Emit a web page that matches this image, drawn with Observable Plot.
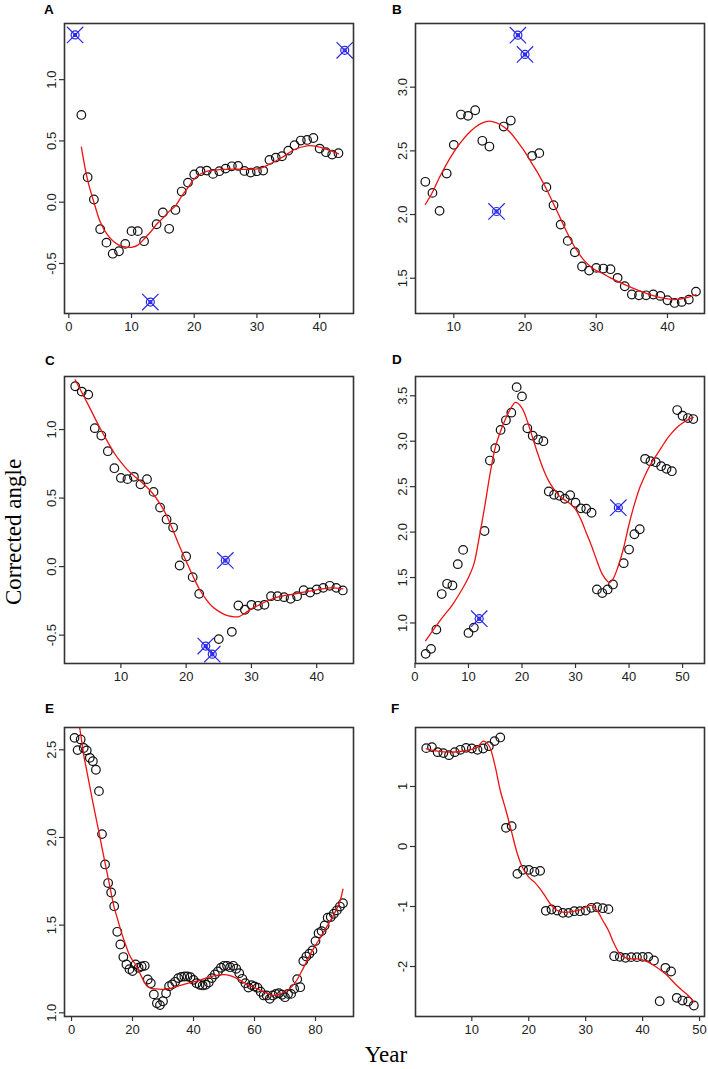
<!DOCTYPE html>
<html>
<head>
<meta charset="utf-8">
<script src="https://cdn.jsdelivr.net/npm/d3@7"></script>
<script src="https://cdn.jsdelivr.net/npm/@observablehq/plot@0.6"></script>
<style>
  body { margin: 0; background: #fff; }
  #wrap { position: relative; width: 708px; height: 1069px; background: #fff; overflow: hidden; }
  .panel { position: absolute; }
  #overlay { position: absolute; left: 0; top: 0; pointer-events: none; }
</style>
</head>
<body>
<div id="wrap"></div>
<script>
// ---------- Panel A ----------
const aYears = [2,3,4,5,6,7,8,9,10,11,12,14,15,16,17,18,19,20,21,22,23,24,25,26,27,28,29,30,31,32,33,34,35,36,37,38,39,40,41,42,43];
const aAngles = [0.712,0.204,0.022,-0.22,-0.33,-0.42,-0.40,-0.34,-0.236,-0.236,-0.318,-0.18,-0.084,-0.217,-0.063,0.087,0.160,0.226,0.253,0.258,0.231,0.253,0.274,0.293,0.296,0.255,0.242,0.253,0.258,0.345,0.364,0.375,0.421,0.465,0.503,0.508,0.524,0.4375,0.408,0.389,0.40];
const aOutYears = [1,13,44];
const aOutAngles = [1.365,-0.815,1.239];
const aFitYears = [2,3,4,5,6,7,8,9,10,11,12,13,14,15,16,17,18,19,20,21,22,24,26,28,30,31,32,34,36,38,39,40,42,43];
const aFitAngles = [0.45,0.18,0.0,-0.16,-0.255,-0.315,-0.35,-0.365,-0.368,-0.35,-0.30,-0.245,-0.18,-0.13,-0.075,-0.03,0.05,0.12,0.19,0.23,0.252,0.265,0.27,0.268,0.272,0.285,0.31,0.365,0.43,0.46,0.46,0.45,0.415,0.395];

// ---------- Panel B ----------
const bYears = [6,7,8,9,10,11,12,13,14,15,17,18,21,22,23,24,25,26,27,28,29,30,31,32,33,34,35,36,37,38,39,40,41,42,43,44];
const bAngles = [2.257,2.170,2.029,2.322,2.547,2.785,2.775,2.819,2.579,2.534,2.691,2.738,2.461,2.482,2.215,2.073,1.921,1.793,1.704,1.592,1.560,1.581,1.576,1.571,1.503,1.437,1.372,1.366,1.366,1.372,1.361,1.327,1.306,1.314,1.332,1.395];
const bOutYears = [16,19,20];
const bOutAngles = [2.024,3.408,3.257];
const bFitYears = [6,7,8,9,10,11,12,13,14,15,16,17,18,19,20,21,22,23,24,25,26,27,28,29,30,31,32,34,36,38,40,41,42,43,44];
const bFitAngles = [2.079,2.175,2.293,2.398,2.49,2.568,2.634,2.686,2.72,2.733,2.72,2.69,2.64,2.568,2.49,2.398,2.306,2.20,2.084,1.966,1.848,1.743,1.66,1.60,1.56,1.534,1.503,1.45,1.403,1.364,1.338,1.332,1.338,1.351,1.372];

// ---------- Panel C ----------
const cYears = [3,4,5,6,7,8,9,10,11,12,13,14,15,16,17,18,19,20,21,22,25,27,28,29,30,31,32,33,34,35,36,37,38,39,40,41,42,43,44];
const cAngles = [1.316,1.277,1.255,1.01,0.956,0.842,0.718,0.647,0.638,0.655,0.60,0.638,0.545,0.431,0.344,0.285,0.008,0.074,-0.077,-0.199,-0.529,-0.476,-0.284,-0.315,-0.279,-0.286,-0.279,-0.216,-0.216,-0.223,-0.235,-0.216,-0.172,-0.189,-0.167,-0.155,-0.14,-0.155,-0.174];
const cOutYears = [23,24,26];
const cOutAngles = [-0.580,-0.639,0.045];
const cFitYears = [3,4,5,6,7,8,9,10,11,12,13,14,15,16,17,18,19,20,21,22,23,24,25,26,27,28,29,30,31,32,34,36,38,40,42,44];
const cFitAngles = [1.362,1.272,1.18,1.085,0.993,0.908,0.827,0.762,0.706,0.662,0.623,0.579,0.526,0.458,0.373,0.263,0.147,0.04,-0.065,-0.162,-0.235,-0.291,-0.327,-0.352,-0.364,-0.366,-0.34,-0.308,-0.284,-0.26,-0.223,-0.204,-0.187,-0.17,-0.155,-0.162];

// ---------- Panel D ----------
const dYears = [2,3,4,5,6,7,8,9,10,11,13,14,15,16,17,18,19,20,21,22,23,24,25,26,27,28,29,30,31,32,33,34,35,36,37,39,40,41,42,43,44,45,46,47,48,49,50,51,52];
const dAngles = [0.660,0.715,0.927,1.318,1.431,1.413,1.647,1.804,0.890,0.949,2.012,2.787,2.923,3.124,3.23,3.314,3.595,3.493,3.142,3.061,3.018,3.0,2.447,2.411,2.40,2.367,2.407,2.323,2.261,2.257,2.213,1.369,1.329,1.369,1.424,1.658,1.808,1.976,2.031,2.806,2.78,2.769,2.725,2.696,2.67,3.343,3.28,3.255,3.244];
const dOutYears = [12,38];
const dOutAngles = [1.047,2.268];
const dFitYears = [2,5,7,9,10,11,12,13,14,15,16,17,18,18.8,20,21,22,23,24,25,26,27,28,29,30,31,32,33,34,35,36,36.4,37,38,39,40,41,42,43,44,45,46,47,48,49,50,51,52];
const dFitAngles = [0.806,1.05,1.20,1.39,1.50,1.647,1.94,2.27,2.63,2.93,3.11,3.255,3.372,3.427,3.365,3.22,3.036,2.853,2.689,2.561,2.47,2.396,2.352,2.312,2.25,2.14,1.994,1.848,1.683,1.537,1.457,1.446,1.482,1.629,1.83,2.086,2.305,2.488,2.626,2.743,2.835,2.926,3.018,3.091,3.153,3.2,3.237,3.262];

// ---------- Panel E ----------
const eYears = [1,2,3,4,5,6,7,8,9,10,11,12,13,14,15,16,17,18,19,20,21,22,23,24,25,26,27,28,29,30,31,32,33,34,35,36,37,38,39,40,41,42,43,44,45,46,47,48,49,50,51,52,53,54,55,56,57,58,59,60,61,62,63,64,65,66,67,68,69,70,71,72,73,74,75,76,77,78,79,80,81,82,83,84,85,86,87,88,89];
const eAngles = [2.568,2.498,2.559,2.51,2.496,2.454,2.435,2.386,2.264,2.019,1.846,1.74,1.686,1.608,1.462,1.39,1.318,1.276,1.249,1.238,1.276,1.257,1.264,1.268,1.19,1.169,1.105,1.055,1.044,1.066,1.112,1.152,1.162,1.177,1.198,1.205,1.207,1.207,1.203,1.188,1.169,1.16,1.156,1.16,1.173,1.198,1.219,1.236,1.257,1.268,1.268,1.26,1.268,1.251,1.226,1.194,1.169,1.144,1.158,1.15,1.143,1.12,1.099,1.099,1.08,1.099,1.108,1.112,1.103,1.089,1.108,1.108,1.137,1.192,1.146,1.295,1.321,1.337,1.356,1.409,1.454,1.466,1.498,1.542,1.546,1.565,1.584,1.606,1.625];
const eFitYears = [1,2,3,4,5,6,7,8,9,10,11,12,13,14,15,16,17,18,19,20,21,22,23,24,25,26,28,30,32,34,36,38,40,42,44,46,48,50,52,54,56,58,60,62,64,66,68,70,72,74,76,78,80,82,84,86,88,89];
const eFitAngles = [2.82,2.70,2.59,2.47,2.38,2.29,2.20,2.115,2.03,1.94,1.855,1.77,1.682,1.60,1.54,1.48,1.425,1.375,1.33,1.30,1.275,1.24,1.205,1.17,1.148,1.14,1.136,1.133,1.138,1.147,1.158,1.168,1.176,1.185,1.198,1.208,1.215,1.218,1.212,1.198,1.178,1.158,1.143,1.128,1.112,1.10,1.105,1.12,1.145,1.19,1.255,1.325,1.385,1.44,1.50,1.56,1.635,1.705];

// ---------- Panel F ----------
const fYears = [2,3,4,5,6,7,8,9,10,11,12,13,14,15,16,17,18,19,20,21,22,23,24,25,26,27,28,29,30,31,32,33,34,35,36,37,38,39,40,41,42,43,44,45,46,47,48,49];
const fAngles = [1.639,1.656,1.572,1.556,1.522,1.572,1.611,1.644,1.633,1.611,1.633,1.672,1.756,1.817,0.311,0.339,-0.456,-0.389,-0.389,-0.422,-0.406,-1.072,-1.05,-1.067,-1.106,-1.106,-1.078,-1.078,-1.067,-1.022,-1.011,-1.028,-1.044,-1.828,-1.839,-1.856,-1.844,-1.844,-1.839,-1.839,-1.9,-2.578,-2.022,-2.083,-2.522,-2.567,-2.583,-2.65];
const fFitYears = [2,4,6,8,10,11,12,13,14,15,16,17,18,19,20,21,22,23,24,25,26,27,28,29,30,31,32,33,34,35,36,37,38,39,40,41,42,44,46,48,49];
const fFitAngles = [1.628,1.589,1.572,1.583,1.617,1.656,1.756,1.683,1.378,0.933,0.6,0.239,-0.122,-0.372,-0.511,-0.594,-0.706,-0.844,-0.983,-1.067,-1.094,-1.094,-1.078,-1.056,-1.011,-0.983,-1.067,-1.233,-1.4,-1.622,-1.789,-1.856,-1.872,-1.872,-1.889,-1.928,-1.983,-2.122,-2.317,-2.483,-2.594];

// ---------- Tick values ----------
const aXTicks = [0,10,20,30,40],   aYTicks = [-0.5,0,0.5,1.0];
const bXTicks = [10,20,30,40],     bYTicks = [1.5,2.0,2.5,3.0];
const cXTicks = [10,20,30,40],     cYTicks = [-0.5,0,0.5,1.0];
const dXTicks = [0,10,20,30,40,50],dYTicks = [1.0,1.5,2.0,2.5,3.0,3.5];
const eXTicks = [0,20,40,60,80],   eYTicks = [1.0,1.5,2.0,2.5];
const fXTicks = [10,20,30,40,50],  fYTicks = [-2,-1,0,1];

const panelLetters = ["A","B","C","D","E","F"];
const yTitle = "Corrected angle";
const xTitle = "Year";

// ---------- Layout ----------
const cols = [
  {left: 0,   width: 354, marginLeft: 64, marginRight: 1},
  {left: 354, width: 354, marginLeft: 61, marginRight: 4}
];
const rows = [
  {top: 0,   height: 345, marginTop: 23, marginBottom: 32},
  {top: 345, height: 345, marginTop: 31, marginBottom: 27},
  {top: 690, height: 379, marginTop: 37, marginBottom: 53}
];

const panels = [
  {col:0,row:0, xs:aYears, ys:aAngles, oxs:aOutYears, oys:aOutAngles, fx:aFitYears, fy:aFitAngles, xd:[-0.69,45.4], yd:[-0.908,1.458], xt:aXTicks, yt:aYTicks, fmt:d=>d.toFixed(1)},
  {col:1,row:0, xs:bYears, ys:bAngles, oxs:bOutYears, oys:bOutAngles, fx:bFitYears, fy:bFitAngles, xd:[4.62,45.2], yd:[1.223,3.5], xt:bXTicks, yt:bYTicks, fmt:d=>d.toFixed(1)},
  {col:0,row:1, xs:cYears, ys:cAngles, oxs:cOutYears, oys:cOutAngles, fx:cFitYears, fy:cFitAngles, xd:[1.36,45.64], yd:[-0.707,1.387], xt:cXTicks, yt:cYTicks, fmt:d=>d.toFixed(1)},
  {col:1,row:1, xs:dYears, ys:dAngles, oxs:dOutYears, oys:dOutAngles, fx:dFitYears, fy:dFitAngles, xd:[0.1,54.1], yd:[0.554,3.712], xt:dXTicks, yt:dYTicks, fmt:d=>d.toFixed(1)},
  {col:0,row:2, xs:eYears, ys:eAngles, oxs:[], oys:[], fx:eFitYears, fy:eFitAngles, xd:[-2.3,92.46], yd:[0.979,2.627], xt:eXTicks, yt:eYTicks, fmt:d=>d.toFixed(1)},
  {col:1,row:2, xs:fYears, ys:fAngles, oxs:[], oys:[], fx:fFitYears, fy:fFitAngles, xd:[0.11,50.87], yd:[-2.833,1.983], xt:fXTicks, yt:fYTicks, fmt:d=>String(d)}
];

const wrap = document.getElementById("wrap");
const blue = "#2a2ae6";

panels.forEach(p => {
  const c = cols[p.col], r = rows[p.row];
  const chart = Plot.plot({
    width: c.width,
    height: r.height,
    marginLeft: c.marginLeft,
    marginRight: c.marginRight,
    marginTop: r.marginTop,
    marginBottom: r.marginBottom,
    style: {fontFamily: "'Liberation Sans', Arial, Helvetica, sans-serif", fontSize: "13px", color: "#222", background: "transparent", overflow: "visible"},
    x: {domain: p.xd},
    y: {domain: p.yd},
    marks: [
      Plot.axisX({ticks: p.xt, tickSize: 5, tickPadding: 3, label: null, stroke: "#333", strokeWidth: 1.2, fontSize: 13}),
      Plot.axisY({ticks: p.yt, tickSize: 5, tickPadding: 4, tickRotate: -90, tickFormat: p.fmt, label: null, stroke: "#333", strokeWidth: 1.2, fontSize: 13}),
      Plot.dot(p.xs, {x: p.xs, y: p.ys, r: 4.3, stroke: "#111", strokeWidth: 1.2, fill: "none"}),
      Plot.line(p.fx, {x: p.fx, y: p.fy, stroke: "#ee1111", strokeWidth: 1.3, curve: "catmull-rom", clip: true}),
      Plot.dot(p.oxs, {x: p.oxs, y: p.oys, r: 4, stroke: blue, strokeWidth: 1.2, fill: "none"}),
      Plot.dot(p.oxs, {x: p.oxs, y: p.oys, r: 1.6, stroke: blue, strokeWidth: 1.2, fill: "none"}),
      Plot.dot(p.oxs, {x: p.oxs, y: p.oys, r: 7.5, symbol: "times", stroke: blue, strokeWidth: 1.2}),
      Plot.frame({stroke: "#333", strokeWidth: 1.6})
    ]
  });
  chart.classList.add("panel");
  chart.style.left = c.left + "px";
  chart.style.top = r.top + "px";
  chart.style.position = "absolute";
  wrap.appendChild(chart);
});

// ---------- Titles & panel letters (overlay) ----------
const ns = "http://www.w3.org/2000/svg";
const ov = document.createElementNS(ns, "svg");
ov.setAttribute("id", "overlay");
ov.setAttribute("width", 708);
ov.setAttribute("height", 1069);
const letterPos = [[44,14],[392,14],[45,365],[392,364],[45,713],[391,713]];
panelLetters.forEach((L, i) => {
  const t = document.createElementNS(ns, "text");
  t.setAttribute("x", letterPos[i][0]);
  t.setAttribute("y", letterPos[i][1]);
  t.setAttribute("font-family", "'Liberation Sans', Arial, sans-serif");
  t.setAttribute("font-weight", "bold");
  t.setAttribute("font-size", "13.5");
  t.setAttribute("fill", "#000");
  t.textContent = L;
  ov.appendChild(t);
});
const yt = document.createElementNS(ns, "text");
yt.setAttribute("transform", "translate(21,532) rotate(-90)");
yt.setAttribute("text-anchor", "middle");
yt.setAttribute("font-family", "'Liberation Serif', 'Times New Roman', serif");
yt.setAttribute("font-size", "23");
yt.textContent = yTitle;
ov.appendChild(yt);
const xtl = document.createElementNS(ns, "text");
xtl.setAttribute("x", 386);
xtl.setAttribute("y", 1062);
xtl.setAttribute("text-anchor", "middle");
xtl.setAttribute("font-family", "'Liberation Serif', 'Times New Roman', serif");
xtl.setAttribute("font-size", "23");
xtl.textContent = xTitle;
ov.appendChild(xtl);
wrap.appendChild(ov);
</script>
</body>
</html>
